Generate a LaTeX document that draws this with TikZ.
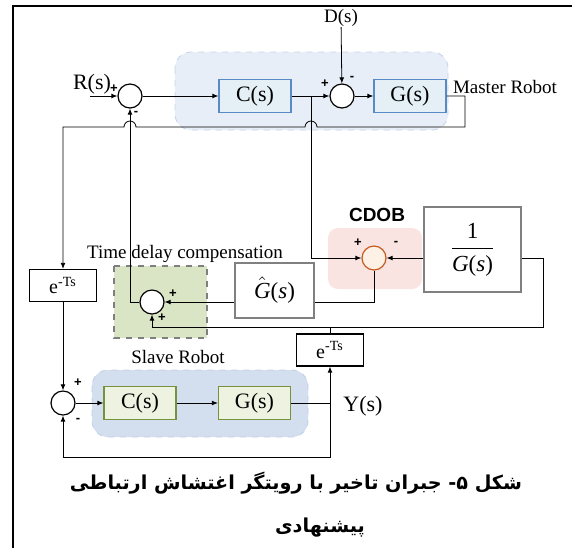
\documentclass[tikz,border=0pt]{standalone}
\usepackage{amsmath}
\usepackage{fontspec}
\setmainfont{Liberation Serif}
\newfontfamily\sansbf{Liberation Sans}
\newfontfamily\arabicfont[Script=Arabic]{DejaVu Sans}
\TeXXeTstate=1
\usepackage{tikz}
\usetikzlibrary{arrows.meta}
\usepackage{xcolor}
\definecolor{mbg}{HTML}{E8EEF7}
\definecolor{mbgline}{HTML}{C3D3EA}
\definecolor{mfill}{HTML}{E4F0F6}
\definecolor{mline}{HTML}{5A8AC6}
\definecolor{cdobbg}{HTML}{F9E4E2}
\definecolor{cdobline}{HTML}{C65A1E}
\definecolor{cdobsum}{HTML}{FDF0E4}
\definecolor{tdcbg}{HTML}{DAE5C5}
\definecolor{tdcline}{HTML}{7F7F7F}
\definecolor{sbg}{HTML}{D3DEEE}
\definecolor{sbgline}{HTML}{C2D0E6}
\definecolor{sfill}{HTML}{EDF2E1}
\definecolor{sline}{HTML}{76923C}
\definecolor{gline}{HTML}{808080}

\begin{document}
\begin{tikzpicture}[x=0.5pt,y=-0.5pt,>={Latex[length=3pt,width=2.4pt]},
  blk/.style={draw,minimum width=36pt,minimum height=16.5pt,inner sep=0pt,font=\fontsize{11}{12}\selectfont},
  mblk/.style={blk,draw=mline,fill=mfill,line width=0.6pt},
  sblk/.style={blk,draw=sline,fill=sfill,line width=0.6pt},
  gblk/.style={draw=gline,line width=1pt,fill=white,inner sep=0pt,font=\fontsize{11.5}{13}\selectfont},
  dly/.style={draw,line width=0.6pt,fill=white,minimum width=33.5pt,minimum height=16pt,inner sep=0pt,font=\fontsize{10}{11}\selectfont},
  sumc/.style={circle,draw,line width=0.6pt,minimum size=12pt,inner sep=0pt,fill=white},
  sgn/.style={font=\sansbf\bfseries\fontsize{6.5}{7}\selectfont,inner sep=0pt},
  lbl/.style={font=\fontsize{9.5}{11}\selectfont,inner sep=0pt},
  captxt/.style={font=\arabicfont\bfseries\fontsize{9.6}{12}\selectfont,inner sep=0pt}]
  \useasboundingbox (0,0) rectangle (572,548);
  \draw[line width=1.1pt] (13,548) -- (13,6) -- (572,6);
  \filldraw[fill=mbg,draw=mbgline,dashed,rounded corners=8pt] (175,52) rectangle (448,130);
  \fill[cdobbg,rounded corners=5pt] (328,228) rectangle (422,289);
  \filldraw[fill=tdcbg,draw=tdcline,dashed,line width=0.7pt] (114,266) rectangle (207,338);
  \filldraw[fill=sbg,draw=sbgline,dashed,rounded corners=8pt] (92,370) rectangle (308,437);

  \node[sumc] (sum1) at (130,96) {};
  \node[lbl,font=\fontsize{11}{12}\selectfont] (rlab) at (92,84) {R(s)};
  \coordinate (rin) at (90,96);
  \node[mblk] (cm) at (255,96) {C(s)};
  \node[sumc] (sum2) at (342,96) {};
  \node[mblk] (gm) at (410,96) {G(s)};
  \node[lbl] (dlab) at (341,18) {D(s)};
  \node[lbl] (mlab) at (505,87) {Master Robot};
  \coordinate (jc) at (311,96);
  \coordinate (mout) at (465,127);

  \node[sumc,draw=cdobline,fill=cdobsum] (sum3) at (374,258) {};
  \node[font=\sansbf\bfseries\fontsize{9.5}{11}\selectfont,inner sep=0pt] (cdob) at (377,215) {CDOB};
  \node[gblk,minimum width=48.5pt,minimum height=42.5pt] (ginv) at (472.5,249.5) {$\dfrac{\text{1}}{\text{\itshape G\upshape(\itshape s\upshape)}}$};
  \coordinate (rc) at (543,327);
  \node[gblk,minimum width=39.5pt,minimum height=27.5pt] (ghat) at (274.5,290.5) {$\hat{\text{\itshape G}}$(\textit{s})};
  \node[sumc] (tsum) at (152,302) {};
  \node[lbl] (tdclab) at (185,254) {Time delay compensation};
  \node[dly] (dl) at (63,285.5) {e\textsuperscript{-Ts}};
  \node[dly] (dr) at (330,350) {e\textsuperscript{-Ts}};

  \node[sumc] (ssum) at (63,403) {};
  \node[sblk] (cs) at (140,403) {C(s)};
  \node[sblk] (gs) at (254.5,403) {G(s)};
  \node[lbl] (slab) at (178,357) {Slave Robot};
  \node[lbl,font=\fontsize{11}{12}\selectfont] (ylab) at (363,406) {Y(s)};
  \coordinate (yj) at (330,403);
  \coordinate (sb) at (330,457);

  \node[sgn] (p1) at (114,89) {+};
  \node[sgn] (m1) at (136,113) {-};
  \node[sgn] (p2) at (325,84) {+};
  \node[sgn] (m2) at (352,78) {-};
  \node[sgn] (p3) at (358,243) {+};
  \node[sgn] (m3) at (396,243) {-};
  \node[sgn] (p4) at (173,294) {+};
  \node[sgn] (p5) at (162,318) {+};
  \node[sgn] (p6) at (78,383) {+};
  \node[sgn] (m6) at (78,420) {-};

  \draw[->] (rin) -- (sum1);
  \draw[->] (sum1) -- (cm);
  \draw[->] (cm) -- (sum2);
  \draw[->] (dlab) -- (sum2);
  \draw[->] (sum2) -- (gm);
  \draw[->] (gm.east) -| (mout) -- (317,127) arc[start angle=0,end angle=180,radius=3pt]
    -- (136,127) arc[start angle=0,end angle=180,radius=3pt] -| (dl.north);
  \draw[->] (jc) |- (sum3);
  \draw[->] (ginv.west |- sum3) -- (sum3);
  \draw (sum3) |- (ghat.east |- tsum);
  \draw[->] (ghat.west |- tsum) -- (tsum);
  \draw[->] (tsum) -| (sum1);
  \draw[->] (ginv.east |- sum3) -| (rc) -| (tsum);
  \draw (dr) -- (dr |- rc);
  \draw[->] (dl) -- (ssum);
  \draw[->] (ssum) -- (cs);
  \draw[->] (cs) -- (gs);
  \draw (gs) -- (yj);
  \draw[->] (yj) -- (dr);
  \draw[->] (yj) -- (sb) -| (ssum);

  \node[captxt] (cap1) at (296,483) {\beginR شکل ۵- جبران تاخیر با رویتگر اغتشاش ارتباطی\endR};
  \node[captxt] (cap2) at (320,528) {\beginR پیشنهادی\endR};
\end{tikzpicture}
\end{document}
